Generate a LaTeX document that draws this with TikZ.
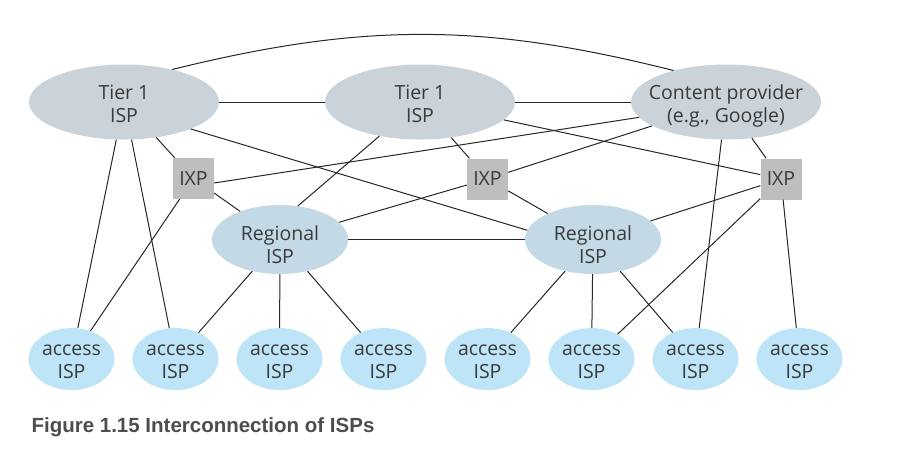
\documentclass[tikz,border=0pt]{standalone}
\usepackage{fontspec}
\setmainfont{Open Sans}
\newfontfamily\capfont{Liberation Sans}
\usetikzlibrary{shapes.geometric}

\definecolor{tiercol}{HTML}{C9D3D9}
\definecolor{regcol}{HTML}{C3DAE6}
\definecolor{acccol}{HTML}{BDE5F7}
\definecolor{ixpcol}{HTML}{BDBEC0}
\definecolor{txtcol}{HTML}{3A3A3A}
\definecolor{capcol}{HTML}{4D4D4D}

% two centred lines that do not widen the ellipse (#1 = lift of the first baseline)
\newcommand{\isp}[3][3pt]{\makebox[0pt]{\raisebox{#1}[0pt][0pt]{\begin{tabular}[t]{@{}c@{}}#2\\#3\end{tabular}}}}

\begin{document}
\begin{tikzpicture}
  [x=1pt,y=-1pt,
   every node/.style={text=txtcol,font=\fontsize{19.5}{23.5}\selectfont},
   tier/.style={ellipse,fill=tiercol,inner sep=0pt,minimum width=190,minimum height=75},
   regional/.style={ellipse,fill=regcol,inner sep=0pt,minimum width=136,minimum height=69},
   access/.style={ellipse,fill=acccol,inner sep=0pt,minimum width=86,minimum height=62},
   ixp/.style={rectangle,fill=ixpcol,inner sep=0pt,minimum size=41},
   link/.style={draw=black!85,line width=1pt}]
  \useasboundingbox (0,0) rectangle (922,472);

  \node[tier] (t1a) at (124,102) {\isp{Tier 1}{ISP}};
  \node[tier] (t1b) at (420,102) {\isp{Tier 1}{ISP}};
  \node[tier] (cp) at (726,102) {\isp{Content provider}{(e.g., Google)}};
  \node[ixp] (ixp1) at (193.5,178.5) {IXP};
  \node[ixp] (ixp2) at (487.5,179) {IXP};
  \node[ixp] (ixp3) at (781,179) {IXP};
  \node[regional] (reg1) at (280,239.5) {\isp[-0.5pt]{Regional}{ISP}};
  \node[regional] (reg2) at (593,239.5) {\isp[-0.5pt]{Regional}{ISP}};
  \foreach \i in {1,...,8}
    \node[access] (acc\i) at ({-32.5+104*\i},359) {\isp[4pt]{access}{ISP}};

  \node[anchor=base west,font=\capfont\bfseries\fontsize{20.5}{24}\selectfont,text=capcol]
    (cap) at (28,432) {Figure 1.15 Interconnection of ISPs};

  \foreach \from/\to in {t1a/t1b,t1b/cp,t1a/ixp1,ixp1/reg1,ixp1/acc1,t1a/acc1,t1a/acc2,
      t1b/ixp2,ixp2/reg2,ixp2/cp,ixp2/reg1,t1b/ixp3,cp/ixp3,ixp3/reg2,ixp3/acc6,ixp3/acc8,
      cp/acc7,reg1/acc2,reg1/acc3,reg1/acc4,reg1/reg2,reg2/acc5,reg2/acc6,reg2/acc7}
    \draw[link] (\from) -- (\to);

  \draw[link] (t1a.-22) -- (reg2.172);
  \draw[link] (t1b.220) -- (reg1.62);
  \draw[link] ([yshift=-4.5pt]ixp1.east) -- (cp.190);
  \draw[link] (t1a.34) to[bend left=14] (cp.149);

\end{tikzpicture}
\end{document}
